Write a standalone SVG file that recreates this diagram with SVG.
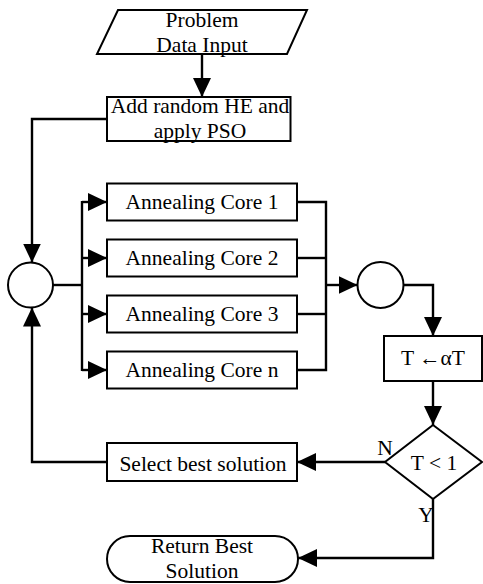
<svg xmlns="http://www.w3.org/2000/svg" width="483" height="584" viewBox="0 0 483 584">
  <style>
    .shape { fill: #ffffff; stroke: #000000; stroke-width: 2; }
    .wire { fill: none; stroke: #000000; stroke-width: 2.4; }
    .label { font-family: "Liberation Serif", "Times New Roman", serif; font-size: 21.5px; fill: #000000; text-anchor: middle; }
  </style>
  <defs>
    <marker id="head" markerUnits="userSpaceOnUse" markerWidth="19" markerHeight="18" refX="19" refY="9" orient="auto">
      <path d="M0,0 L19,9 L0,18 Z" fill="#000000"/>
    </marker>
  </defs>

  <!-- connectors -->
  <g id="connectors" class="wire">
    <path d="M202,54 V97" marker-end="url(#head)"/>
    <path d="M107,119 H32 V262.5" marker-end="url(#head)"/>
    <path d="M107,462 H32 V307.5" marker-end="url(#head)"/>
    <path d="M53,285 H82"/>
    <path d="M82,201 V371"/>
    <path d="M82,202 H107" marker-end="url(#head)"/>
    <path d="M82,258 H107" marker-end="url(#head)"/>
    <path d="M82,314 H107" marker-end="url(#head)"/>
    <path d="M82,370 H107" marker-end="url(#head)"/>
    <path d="M297,202 H326 V370 H297"/>
    <path d="M297,258 H326"/>
    <path d="M297,314 H326"/>
    <path d="M326,285 H357.5" marker-end="url(#head)"/>
    <path d="M403.5,285 H433 V336" marker-end="url(#head)"/>
    <path d="M433,381 V425" marker-end="url(#head)"/>
    <path d="M385,462 H297" marker-end="url(#head)"/>
    <path d="M433,499 V558 H298" marker-end="url(#head)"/>
  </g>

  <!-- input -->
  <g id="input">
    <polygon class="shape" points="118,10 307,10 287,54 97,54"/>
    <text class="label" x="202" y="27">Problem</text>
    <text class="label" x="202" y="52">Data Input</text>
  </g>

  <g id="pso">
    <rect class="shape" x="107" y="97" width="183.5" height="44"/>
    <text class="label" x="200" y="113">Add random HE and</text>
    <text class="label" x="200" y="138">apply PSO</text>
  </g>

  <g id="merge-in">
    <circle class="shape" cx="30.5" cy="285" r="22.5"/>
  </g>

  <g id="core1">
    <rect class="shape" x="107" y="183.5" width="190" height="37"/>
    <text class="label" x="202" y="209">Annealing Core 1</text>
  </g>
  <g id="core2">
    <rect class="shape" x="107" y="239.5" width="190" height="37"/>
    <text class="label" x="202" y="265">Annealing Core 2</text>
  </g>
  <g id="core3">
    <rect class="shape" x="107" y="295.5" width="190" height="37"/>
    <text class="label" x="202" y="321">Annealing Core 3</text>
  </g>
  <g id="coren">
    <rect class="shape" x="107" y="351.5" width="190" height="37"/>
    <text class="label" x="202" y="377">Annealing Core n</text>
  </g>

  <g id="merge-out">
    <circle class="shape" cx="380.5" cy="285" r="23"/>
  </g>

  <g id="cooling">
    <rect class="shape" x="384" y="336" width="98" height="45"/>
    <text class="label" x="433" y="365">T ←αT</text>
  </g>

  <g id="decision">
    <polygon class="shape" points="433,425 482,462 433,499 385,462"/>
    <text class="label" x="434" y="470">T &lt; 1</text>
    <text class="label" x="385" y="455">N</text>
    <text class="label" x="426" y="522">Y</text>
  </g>

  <g id="select">
    <rect class="shape" x="107" y="443" width="190" height="38"/>
    <text class="label" x="203" y="471">Select best solution</text>
  </g>

  <g id="result">
    <rect class="shape" x="107" y="536" width="191" height="46" rx="23" ry="23"/>
    <text class="label" x="202" y="553">Return Best</text>
    <text class="label" x="202" y="578">Solution</text>
  </g>
</svg>
